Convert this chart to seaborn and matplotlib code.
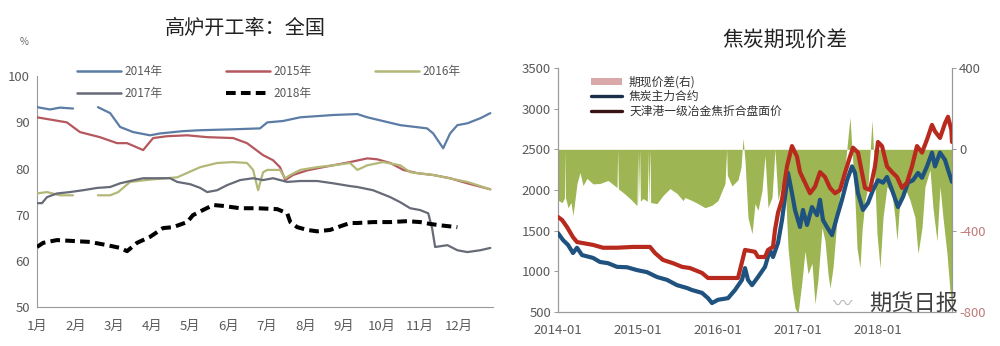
import numpy as np
import pandas as pd
import matplotlib
matplotlib.use("Agg")
import matplotlib.pyplot as plt
import seaborn as sns
from matplotlib.lines import Line2D
from matplotlib.patches import Patch

sns.set_theme(style="white")
plt.rcParams['font.family'] = ['Noto Sans CJK SC', 'DejaVu Sans']
plt.rcParams['axes.unicode_minus'] = False

nan = np.nan

# ---------------- blast furnace utilisation (%), x = months since Jan ----------------
month_labels = ["1月", "2月", "3月", "4月", "5月", "6月", "7月", "8月", "9月", "10月", "11月", "12月"]

m_2014 = [0, 0.34, 0.6, 0.94, 1.25, 1.59, 1.91, 2.17, 2.51, 2.95, 3.21, 3.81, 4.26, 5.12, 5.82,
          6.01, 6.42, 6.87, 7.73, 8.36, 8.62, 9.48, 10.18, 10.34, 10.6, 10.78, 10.97, 11.23, 11.57, 11.83]
v_2014 = [93.3, 92.8, 93.2, 93.0, nan, 93.3, 92.0, 89.0, 87.9, 87.2, 87.6, 88.1, 88.3, 88.5, 88.7,
          90.0, 90.3, 91.1, 91.6, 91.8, 91.1, 89.4, 88.7, 87.6, 84.4, 87.6, 89.4, 89.8, 90.9, 92.0]

m_2015 = [0, 0.78, 1.12, 1.64, 2.09, 2.35, 2.77, 3.03, 3.39, 3.92, 4.44, 5.12, 5.48, 5.9, 6.16,
          6.34, 6.48, 6.68, 7.05, 7.47, 8.17, 8.62, 8.88, 9.22, 9.56, 9.92, 10.34, 10.78, 11.23, 11.83]
v_2015 = [91.1, 90.0, 87.9, 86.8, 85.5, 85.5, 84.0, 86.6, 87.0, 87.2, 86.8, 86.6, 85.5, 82.9, 81.8,
          80.3, 77.5, 78.6, 79.6, 80.3, 81.4, 82.2, 82.0, 81.2, 79.7, 79.0, 78.6, 77.9, 76.8, 75.5]

m_2016 = [0, 0.26, 0.6, 0.94, 1.25, 1.59, 1.91, 2.12, 2.43, 2.95, 3.66, 4.26, 4.7, 5.12, 5.48,
          5.64, 5.77, 5.9, 6.01, 6.34, 6.48, 6.61, 6.87, 7.31, 7.73, 8.17, 8.36, 8.62, 9.03, 9.48,
          9.74, 10.34, 11.23, 11.83]
v_2016 = [74.6, 74.9, 74.2, 74.2, nan, 74.2, 74.2, 74.9, 77.1, 77.6, 78.1, 80.3, 81.2, 81.4, 81.2,
          79.7, 75.3, 79.2, 79.7, 79.7, 77.9, 78.6, 79.7, 80.3, 80.7, 81.2, 79.7, 80.7, 81.4, 80.7,
          79.2, 78.6, 77.1, 75.5]

m_2017 = [0, 0.13, 0.26, 0.52, 0.86, 1.2, 1.57, 1.91, 2.17, 2.43, 2.77, 3.13, 3.47, 3.66, 4.0,
          4.26, 4.44, 4.7, 4.96, 5.3, 5.64, 5.9, 6.16, 6.53, 6.87, 7.31, 7.73, 8.17, 8.36, 8.77,
          9.22, 9.48, 9.74, 10.0, 10.21, 10.31, 10.39, 10.71, 10.97, 11.23, 11.57, 11.83]
v_2017 = [72.5, 72.5, 73.8, 74.6, 74.9, 75.3, 75.8, 76.0, 76.8, 77.3, 77.9, 77.9, 77.9, 77.1, 76.6,
          75.8, 74.9, 75.3, 76.4, 77.5, 77.9, 77.5, 77.9, 77.1, 77.3, 77.3, 76.8, 76.2, 76.0, 75.3,
          73.8, 72.7, 71.4, 71.0, 70.3, 67.1, 63.0, 63.4, 62.3, 61.9, 62.3, 62.8]

m_2018 = [0, 0.16, 0.52, 0.94, 1.38, 1.83, 2.17, 2.35, 2.61, 2.95, 3.29, 3.55, 3.92, 4.07, 4.33,
          4.6, 4.86, 5.3, 5.74, 6.27, 6.53, 6.61, 6.79, 7.05, 7.31, 7.65, 7.99, 8.17, 8.36, 8.77,
          9.22, 9.66, 10.0, 10.26, 10.52, 10.97]
v_2018 = [63.0, 63.9, 64.5, 64.3, 64.1, 63.4, 62.8, 62.1, 63.9, 65.2, 67.1, 67.3, 68.4, 69.9, 71.0,
          72.1, 71.9, 71.4, 71.4, 71.2, 70.3, 68.4, 67.3, 66.7, 66.4, 66.7, 67.7, 68.2, 68.2, 68.4,
          68.4, 68.6, 68.4, 68.0, 67.7, 67.3]

year_names = ["2014年", "2015年", "2016年", "2017年", "2018年"]
year_colors = ["#5a7ca5", "#b4585e", "#b3b877", "#676b77", "#000000"]

# ---------------- coke futures vs spot, x = months since 2014-01 ----------------
date_ticks = ["2014-01", "2015-01", "2016-01", "2017-01", "2018-01"]

spread_m = [0.0, 0.6, 0.97, 1.05, 1.12, 1.5, 1.95, 2.25, 2.85, 3.3,
            3.75, 4.35, 5.25, 6.3, 7.5, 8.85, 8.95, 9.06, 9.75, 10.8,
            11.85, 11.95, 12.06, 12.25, 12.36, 12.75, 13.4, 13.5, 13.6, 13.8,
            13.9, 14.85, 15.75, 16.8, 17.85, 18.75, 19.05, 20.1, 21.0, 22.05,
            23.1, 24.0, 25.05, 25.3, 25.4, 26.1, 27.0, 27.45, 27.75, 28.05,
            28.5, 29.1, 29.55, 30.0, 30.6, 31.05, 31.5, 32.1, 32.55, 33.0,
            33.6, 34.05, 34.5, 35.1, 35.55, 36.0, 36.6, 37.05, 37.5, 38.1,
            38.55, 39.0, 39.6, 40.05, 40.5, 40.8, 41.25, 41.55, 41.85, 42.3,
            43.05, 43.8, 44.1, 44.55, 44.85, 45.3, 45.6, 46.05, 46.5, 47.1,
            47.4, 47.85, 48.3, 48.75, 49.35, 50.1, 50.55, 50.85, 51.3, 52.05,
            52.8, 53.55, 54.0, 54.6, 55.05, 55.8, 56.25, 56.85, 57.3, 57.75,
            58.35, 58.8, 59.1]
spread_v = [-250, -262, -240, 0, -237, -287, -262, -326, -168, -114,
            -178, -143, -170, -168, -153, -188, 0, -195, -212, -242,
            -277, 0, -270, 0, -255, -242, -255, 0, -262, 0,
            -262, -267, -227, -193, -217, -252, -237, -252, -267, -287,
            -275, -252, -168, 0, -128, -180, -150, -89, 54, -54,
            -336, -415, -267, -300, -203, -30, -287, -237, 0, -250,
            -168, -153, -484, -682, -780, -810, -647, -500, -612, -560,
            -760, -640, -385, -450, -612, -682, -583, -464, -336, -217,
            -89, 158, 0, -252, -484, -583, -400, -252, -183, 143,
            -50, -415, -583, -336, -183, -217, -336, -450, -240, -190,
            -250, -336, -513, -385, -183, -100, -290, -450, -183, -336,
            -513, -696, -780]

futures_m = [0, 0.75, 1.5, 2.25, 2.85, 3.6, 5.25, 6.3, 7.5, 8.85,
             10.35, 11.85, 13.35, 14.85, 16.35, 17.85, 19.35, 20.1, 21.6, 22.5,
             23.1, 24.0, 25.5, 26.55, 27.6, 28.05, 28.5, 29.1, 30.0, 31.05,
             31.8, 32.25, 33.0, 33.6, 34.05, 34.5, 35.1, 35.55, 36.3, 36.75,
             37.35, 38.1, 38.85, 39.3, 39.75, 40.35, 41.1, 41.85, 42.6, 43.35,
             44.1, 44.55, 45.0, 45.75, 46.5, 47.25, 48.0, 48.75, 49.35, 50.1,
             51.0, 51.75, 52.5, 53.25, 54.0, 54.6, 55.35, 56.1, 56.55, 57.3,
             58.05, 58.5, 59.1]
futures_v = [1470, 1385, 1325, 1225, 1290, 1200, 1165, 1115, 1100, 1055,
             1050, 1015, 990, 930, 895, 830, 795, 770, 735, 670,
             610, 650, 670, 770, 895, 1040, 895, 830, 930, 1055,
             1263, 1176, 1350, 1630, 1915, 2210, 1960, 1755, 1545, 1755,
             1570, 1790, 1690, 1880, 1630, 1545, 1445, 1670, 1880, 2120,
             2290, 2210, 1960, 1755, 1840, 2000, 2120, 2090, 2160, 2000,
             1790, 1915, 2090, 2120, 2210, 2150, 2290, 2460, 2290, 2460,
             2370, 2250, 2100]

spot_m = [0, 0.6, 1.35, 2.25, 2.85, 5.25, 6.75, 8.85, 11.25, 13.8,
          14.55, 15.75, 17.25, 18.6, 19.8, 20.55, 21.6, 22.5, 24.0, 27.0,
          28.05, 29.55, 30.0, 31.05, 31.5, 32.25, 32.55, 33.0, 33.6, 34.35,
          35.1, 35.85, 36.3, 37.05, 37.8, 38.55, 39.3, 40.05, 40.8, 41.55,
          42.3, 43.05, 43.8, 44.25, 45.0, 45.6, 46.05, 46.8, 47.55, 48.0,
          48.6, 49.35, 50.1, 50.85, 51.6, 52.35, 53.1, 53.85, 54.6, 55.35,
          56.1, 56.55, 57.3, 58.05, 58.5, 59.0, 59.1]
spot_v = [1668, 1632, 1545, 1420, 1360, 1325, 1290, 1290, 1300, 1300,
          1225, 1140, 1100, 1055, 1040, 1015, 980, 918, 918, 918,
          1263, 1240, 1176, 1176, 1263, 1300, 1510, 1720, 1880, 2290,
          2540, 2410, 2220, 2090, 1960, 2040, 2220, 2160, 2025, 1960,
          2000, 2210, 2410, 2520, 2460, 2210, 2025, 2000, 2290, 2590,
          2540, 2290, 2220, 2160, 2025, 2090, 2290, 2540, 2460, 2620,
          2800, 2720, 2640, 2820, 2900, 2740, 2590]

series_names = ["期现价差(右)", "焦炭主力合约", "天津港一级冶金焦折合盘面价"]

START = pd.Timestamp("2014-01-01")


def to_dates(months):
    return START + pd.to_timedelta(np.asarray(months, dtype=float) * 30.4375, unit="D")


def segments(x, y):
    """Split a series at NaN gaps."""
    x = np.asarray(x, dtype=float)
    y = np.asarray(y, dtype=float)
    ok = ~np.isnan(y)
    out, cur = [], []
    for i in range(len(x)):
        if ok[i]:
            cur.append(i)
        elif cur:
            out.append(cur)
            cur = []
    if cur:
        out.append(cur)
    return [(x[idx], y[idx]) for idx in out]


fig = plt.figure(figsize=(10, 3.46), dpi=100)
tick_col = "#5a5a5a"
spine_col = "#9a9a9a"
TICK_FS = 9.5

# ================= left panel =================
ax = fig.add_axes([0.037, 0.1127, 0.456, 0.667])
year_m = [m_2014, m_2015, m_2016, m_2017, m_2018]
year_v = [v_2014, v_2015, v_2016, v_2017, v_2018]
for name, col, xs, ys in zip(year_names, year_colors, year_m, year_v):
    for sx, sy in segments(xs, ys):
        if name == "2018年":
            sns.lineplot(x=sx, y=sy, ax=ax, color=col, lw=2.9, linestyle=(0, (2.4, 1.3)),
                         estimator=None, sort=False, zorder=5)
        else:
            sns.lineplot(x=sx, y=sy, ax=ax, color=col, lw=1.6, estimator=None, sort=False,
                         zorder=3)

ax.set_xlim(0, 11.9)
ax.set_ylim(50, 100)
ax.set_xticks(range(12))
ax.set_xticklabels(month_labels)
ax.set_yticks(range(50, 101, 10))
ax.set_xlabel("")
ax.set_ylabel("")
for s in ["top", "right"]:
    ax.spines[s].set_visible(False)
for s in ["left", "bottom"]:
    ax.spines[s].set_color(spine_col)
    ax.spines[s].set_linewidth(0.8)
ax.tick_params(axis="both", direction="out", length=3, width=0.7, color=spine_col,
               labelsize=TICK_FS, labelcolor=tick_col, pad=2)
ax.tick_params(axis="x", pad=6)

fig.text(0.245, 0.919, "高炉开工率：全国", ha="center", va="center", fontsize=14.5, color="#222222")
fig.text(0.024, 0.878, "%", ha="center", va="center", fontsize=7, color="#666666")

handles = [Line2D([0], [0], color=c, lw=(2.9 if n == "2018年" else 1.8),
                  linestyle=((0, (2.4, 1.3)) if n == "2018年" else "-"))
           for n, c in zip(year_names, year_colors)]
order = [0, 3, 1, 4, 2]
fig.legend([handles[i] for i in order], [year_names[i] for i in order],
           loc="center", bbox_to_anchor=(0.269, 0.762), ncol=3, frameon=False,
           fontsize=8.5, handlelength=3.7, handletextpad=0.3, columnspacing=5.4,
           labelspacing=0.75, labelcolor=tick_col)

# ================= right panel =================
axr = fig.add_axes([0.558, 0.0983, 0.394, 0.7052])
axs = axr.twinx()

sd = to_dates(spread_m)
axs.fill_between(sd, spread_v, 0, color="#9db552", lw=0, zorder=1)
axs.set_ylim(-800, 400)
axs.set_yticks([400, 0, -400, -800])

fd = to_dates(futures_m)
pdt = to_dates(spot_m)
sns.lineplot(x=fd, y=futures_v, ax=axr, color="#1f527f", lw=3.0, estimator=None, sort=False,
             zorder=4)
sns.lineplot(x=pdt, y=spot_v, ax=axr, color="#b82a1e", lw=3.0, estimator=None, sort=False,
             zorder=5)

axr.set_zorder(axs.get_zorder() + 1)
axr.patch.set_visible(False)

axr.set_ylim(500, 3500)
axr.set_yticks(range(500, 3501, 500))
axr.set_xlim(START, to_dates([59.1])[0])
axr.set_xticks(pd.to_datetime([d + "-01" for d in date_ticks]))
axr.set_xticklabels(date_ticks)
axr.set_xlabel("")
axr.set_ylabel("")
for a in (axr, axs):
    a.spines["top"].set_visible(False)
    for s in ["left", "right", "bottom"]:
        a.spines[s].set_color(spine_col)
        a.spines[s].set_linewidth(0.8)
    a.tick_params(axis="both", direction="out", length=3, width=0.7, color=spine_col,
                  labelsize=TICK_FS, labelcolor=tick_col, pad=2)
axr.tick_params(axis="x", pad=6)
for lab, val in zip(axs.get_yticklabels(), [400, 0, -400, -800]):
    lab.set_color("#c07a7a" if val < 0 else tick_col)

fig.text(0.785, 0.884, "焦炭期现价差", ha="center", va="center", fontsize=15, color="#222222")

rh = [Patch(facecolor="#d9a9a9", edgecolor="none"),
      Line2D([0], [0], color="#1b2f4a", lw=2.4),
      Line2D([0], [0], color="#3a1414", lw=2.4)]
fig.legend(rh, series_names, loc="upper left", bbox_to_anchor=(0.583, 0.805), frameon=False,
           fontsize=8.5, handlelength=2.6, handleheight=0.5, handletextpad=0.6,
           labelspacing=0.12, borderpad=0.2, labelcolor="#333333")

# publisher mark
fig.text(0.843, 0.12, "〰", ha="center", va="center", fontsize=14, color="#bbbbbb",
         family=["Noto Sans CJK SC", "DejaVu Sans"])
fig.text(0.914, 0.124, "期货日报", ha="center", va="center", fontsize=16, color="#3f3f3f")

fig.savefig("out.png", dpi=100)
